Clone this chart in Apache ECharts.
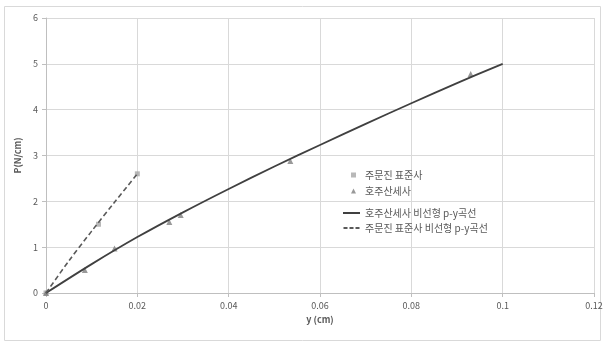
<!DOCTYPE html>
<html>
<head>
<meta charset="utf-8">
<script src="https://cdn.jsdelivr.net/npm/echarts@6/dist/echarts.min.js"></script>
<style>
  html, body { margin: 0; padding: 0; background: #fff; }
  #chart { width: 606px; height: 345px; }
</style>
</head>
<body>
<div id="chart"></div>
<script>
// Measured points: 주문진 표준사 (Jumunjin standard sand)
const jumunjinPts = [[0, 0], [0.0115, 1.5], [0.02, 2.6]];
// Measured points: 호주산세사 (Australian fine sand)
const hojuPts = [[0, 0], [0.0085, 0.5], [0.015, 0.97], [0.027, 1.55], [0.0295, 1.7], [0.0535, 2.88], [0.093, 4.78]];
// Nonlinear p-y curves
const hojuCurve = [[0, 0], [0.01, 0.63], [0.02, 1.22], [0.03, 1.76], [0.04, 2.27], [0.05, 2.76], [0.06, 3.23], [0.07, 3.69], [0.08, 4.14], [0.09, 4.58], [0.1, 5.0]];
const jumunjinCurve = [[0, 0], [0.005, 0.7], [0.01, 1.35], [0.015, 1.98], [0.02, 2.6]];

const seriesNames = ['주문진 표준사', '호주산세사', '호주산세사 비선형 p-y곡선', '주문진 표준사 비선형 p-y곡선'];
const xTicks = [0, 0.02, 0.04, 0.06, 0.08, 0.1, 0.12];
const yTicks = [0, 1, 2, 3, 4, 5, 6];

const font = '"Noto Sans CJK KR", "Noto Sans", sans-serif';
const textColor = '#595959';
const gridColor = '#d9d9d9';
const solidColor = '#404040';
const dashColor = '#595959';

const legendText = { color: textColor, fontSize: 10, fontFamily: font };

const chart = echarts.init(document.getElementById('chart'));
chart.setOption({
  animation: false,
  textStyle: { fontFamily: font },
  graphic: [{
    type: 'rect',
    shape: { x: 4.5, y: 6.5, width: 596, height: 334 },
    style: { fill: 'none', stroke: '#d9d9d9', lineWidth: 1 },
    silent: true
  }],
  grid: { left: 46, right: 12, top: 18, bottom: 52 },
  xAxis: {
    type: 'value',
    min: xTicks[0],
    max: xTicks[xTicks.length - 1],
    interval: 0.02,
    name: 'y (cm)',
    nameLocation: 'middle',
    nameGap: 20,
    nameTextStyle: { color: textColor, fontSize: 9, fontWeight: 'bold' },
    axisLine: { lineStyle: { color: '#bfbfbf' } },
    axisTick: { show: true, length: 4, lineStyle: { color: '#bfbfbf' } },
    axisLabel: { color: textColor, fontSize: 9, margin: 8, formatter: v => String(+v.toFixed(2)) },
    splitLine: { lineStyle: { color: gridColor } }
  },
  yAxis: {
    type: 'value',
    min: yTicks[0],
    max: yTicks[yTicks.length - 1],
    interval: 1,
    name: 'P(N/cm)',
    nameLocation: 'middle',
    nameGap: 14,
    nameTextStyle: { color: textColor, fontSize: 9, fontWeight: 'bold' },
    axisLine: { show: true, lineStyle: { color: '#bfbfbf' } },
    axisTick: { show: true, length: 4, lineStyle: { color: '#bfbfbf' } },
    axisLabel: { color: textColor, fontSize: 9, margin: 8 },
    splitLine: { lineStyle: { color: gridColor } }
  },
  legend: [
    {
      // marker entries
      orient: 'vertical',
      left: 346,
      top: 165,
      itemWidth: 5,
      itemHeight: 5,
      itemGap: 6,
      textStyle: Object.assign({ padding: [0, 0, 0, 4] }, legendText),
      data: [
        { name: seriesNames[0], icon: 'rect' },
        { name: seriesNames[1], icon: 'triangle' }
      ]
    },
    {
      // curve entries
      orient: 'vertical',
      left: 338,
      top: 203,
      itemWidth: 17,
      itemHeight: 2,
      itemGap: 5,
      textStyle: legendText,
      data: [
        { name: seriesNames[2], icon: 'rect', itemStyle: { color: solidColor } },
        { name: seriesNames[3], icon: 'path://M0,0h4v2h-4zM6,0h4v2h-4zM12,0h4v2h-4z', itemStyle: { color: dashColor } }
      ]
    }
  ],
  series: [
    {
      name: seriesNames[2],
      type: 'line',
      data: hojuCurve,
      smooth: 0.3,
      showSymbol: false,
      lineStyle: { color: solidColor, width: 1.8 },
      itemStyle: { color: solidColor }
    },
    {
      name: seriesNames[3],
      type: 'line',
      data: jumunjinCurve,
      smooth: 0.3,
      showSymbol: false,
      lineStyle: { color: dashColor, width: 1.6, type: [5, 3] },
      itemStyle: { color: dashColor }
    },
    {
      name: seriesNames[0],
      type: 'scatter',
      data: jumunjinPts,
      symbol: 'rect',
      symbolSize: 5,
      itemStyle: { color: '#a6a6a6' }
    },
    {
      name: seriesNames[1],
      type: 'scatter',
      data: hojuPts,
      symbol: 'triangle',
      symbolSize: 6,
      itemStyle: { color: '#7f7f7f' }
    }
  ]
});
</script>
</body>
</html>
